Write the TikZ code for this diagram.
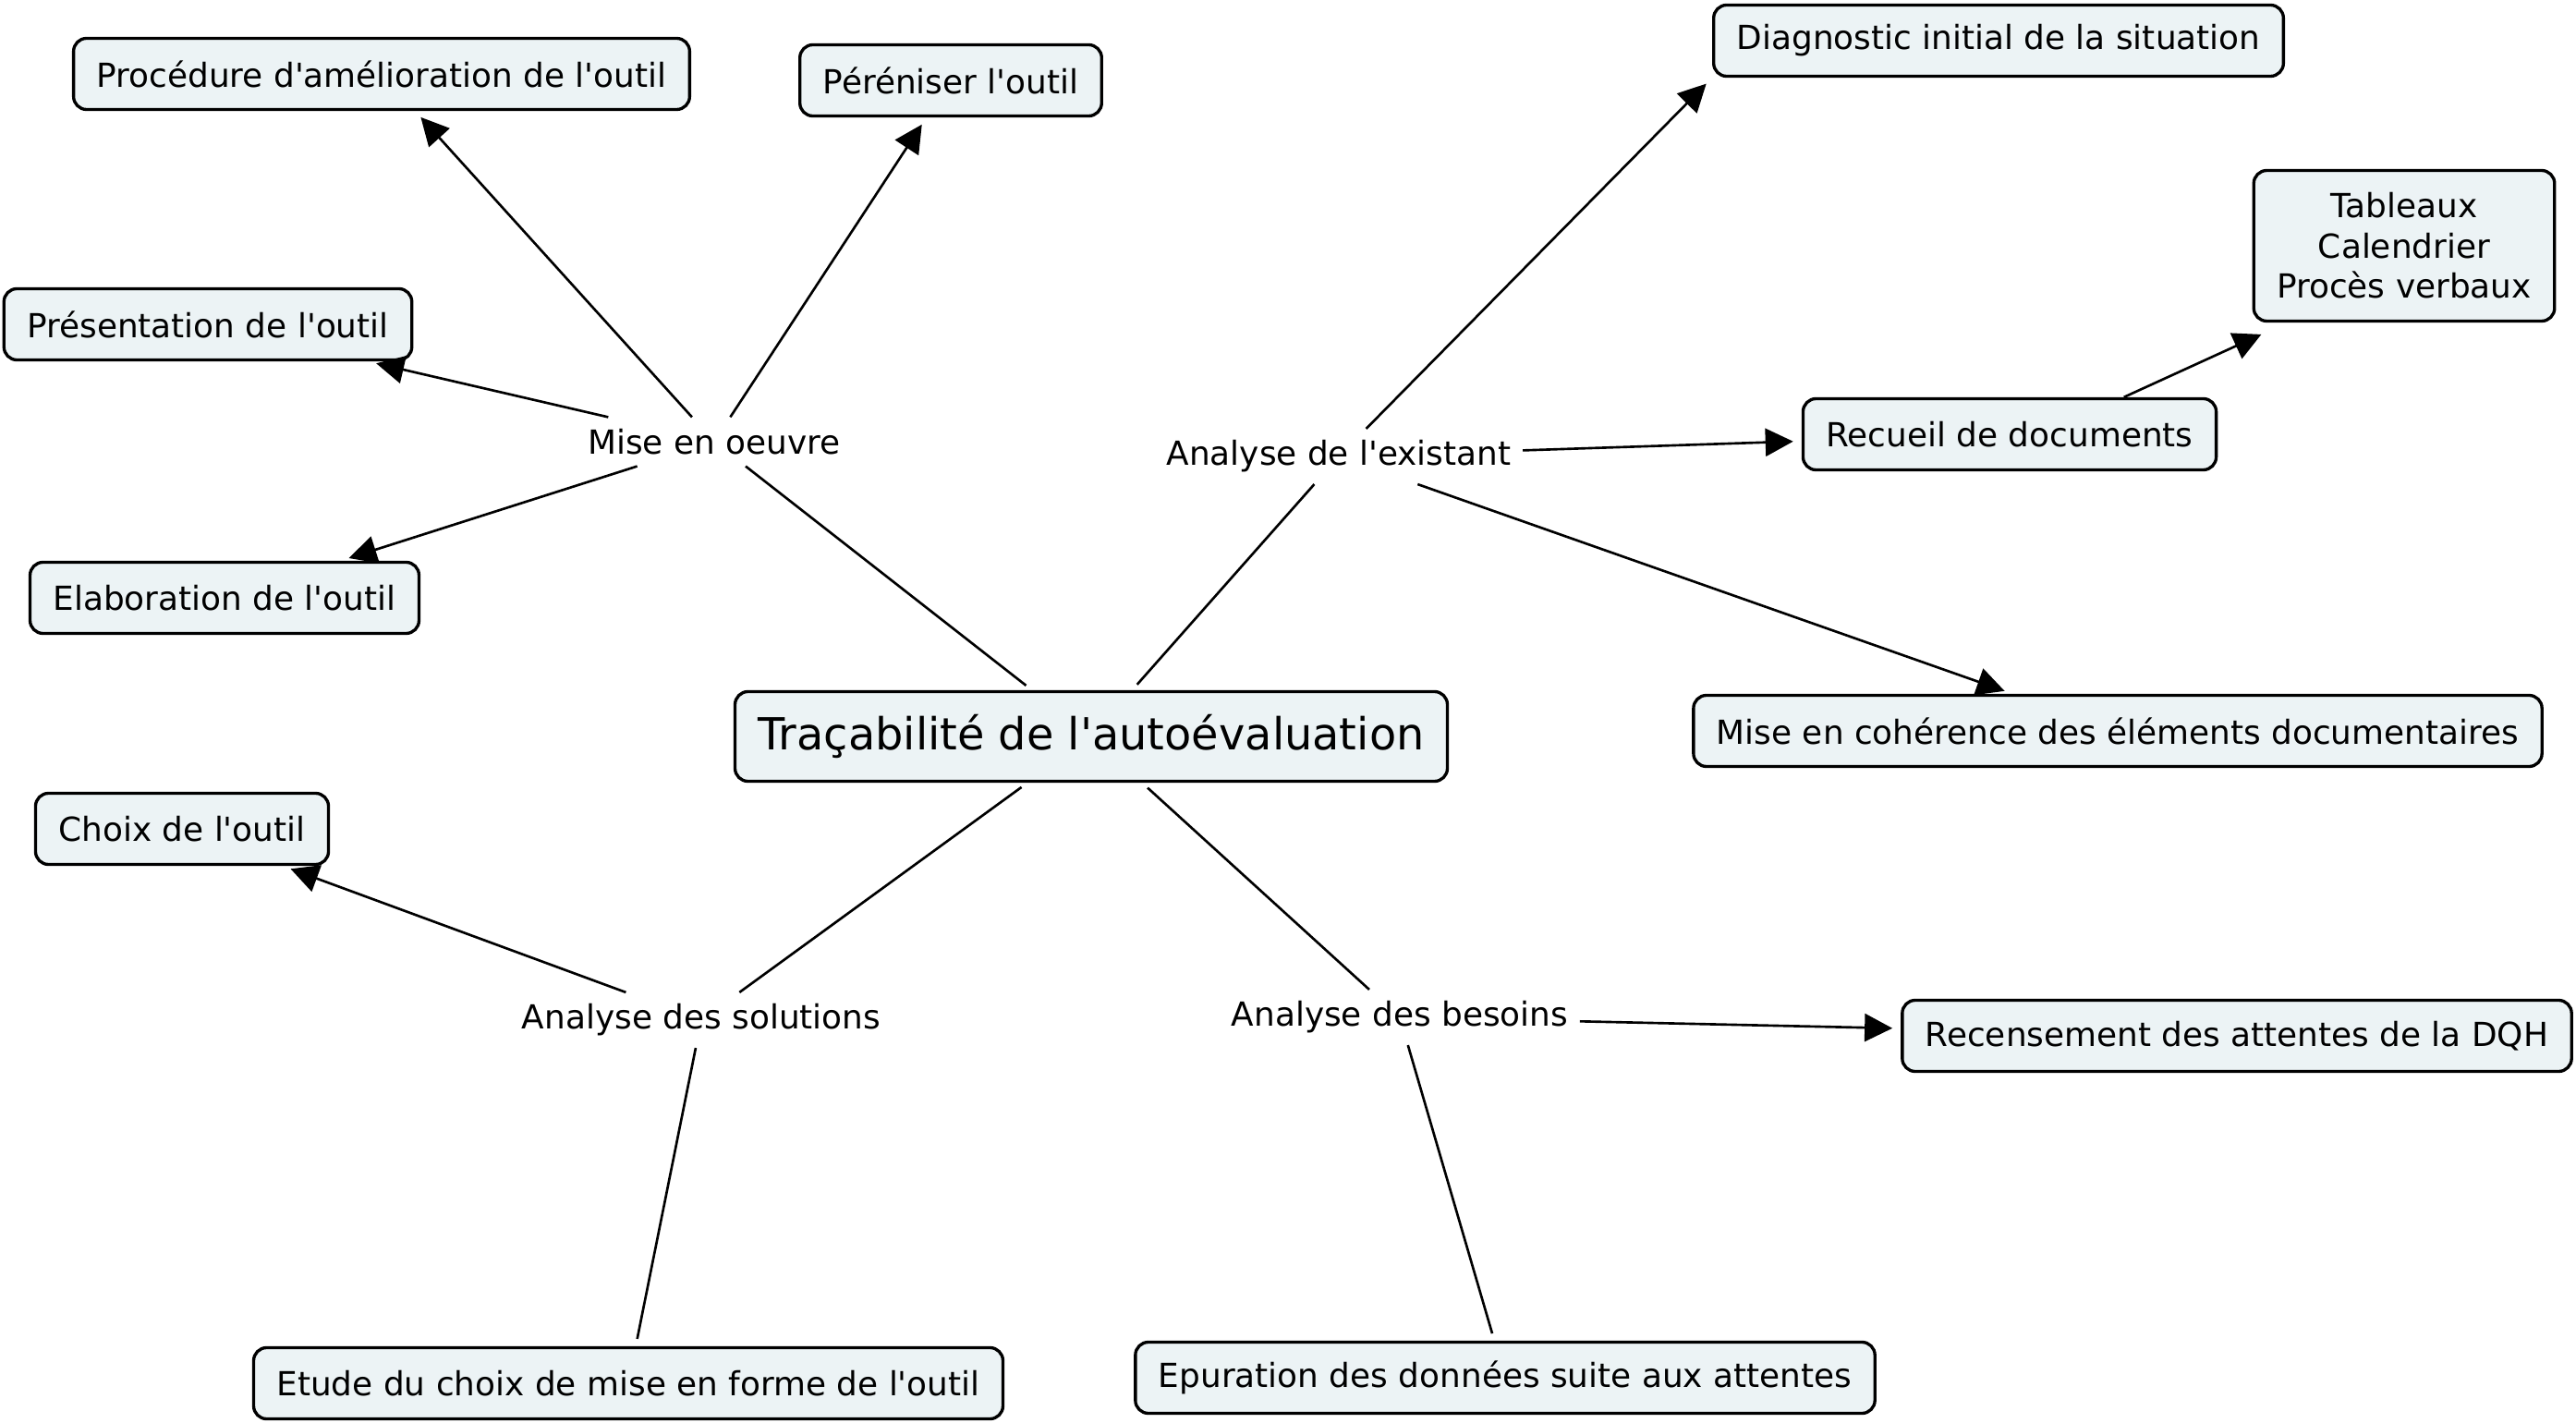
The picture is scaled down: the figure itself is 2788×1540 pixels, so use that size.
\documentclass[tikz,border=0pt]{standalone}
\usepackage{fontspec}
\setmainfont{DejaVu Sans}[Ligatures=TeXOff]
\usetikzlibrary{arrows.meta,positioning}
\definecolor{boxfill}{RGB}{236,243,245}

\begin{document}
\begin{tikzpicture}[
    x=0.01cm, y=-0.01cm,
    box/.style={rectangle, draw=black, fill=boxfill, line width=0.95pt, rounded corners=4pt, minimum height=0.77cm, inner xsep=0.25cm, align=center, font=\fontsize{10.2}{12.4}\selectfont},
    titlebox/.style={box, minimum height=0.97cm, font=\fontsize{13.6}{16}\selectfont},
    label/.style={inner sep=0.12cm, font=\fontsize{10.2}{12.4}\selectfont},
    arrow/.style={-{Triangle[length=0.3cm,width=0.3cm]}, line width=0.75pt, shorten >=0.09cm},
    link/.style={line width=0.75pt, shorten <=0.08cm}
]
\useasboundingbox (0,0) rectangle (2788,1540);

% Centre
\node[titlebox] (title) at (1181,797) {Traçabilité de l'autoévaluation};

% Top left: Mise en oeuvre
\node[label] (miseoeuvre) at (773,478) {Mise en oeuvre};
\node[box] (procedure) at (413,80) {Procédure d'amélioration de l'outil};
\node[box] (pereniser) at (1029,87) {Péréniser l'outil};
\node[box] (presentation) at (225,351) {Présentation de l'outil};
\node[box] (elaboration) at (243,647) {Elaboration de l'outil};

% Top right: Analyse de l'existant
\node[label] (existant) at (1449,494) {Analyse de l'existant};
\node[box] (diagnostic) at (2163,44) {Diagnostic initial de la situation};
\node[box, inner ysep=0.24cm] (docs) at (2602,266) {Tableaux\\Calendrier\\Procès verbaux};
\node[box] (recueil) at (2175,470) {Recueil de documents};
\node[box] (coherence) at (2292,791) {Mise en cohérence des éléments documentaires};

% Bottom left: Analyse des solutions
\node[label] (solutions) at (759,1104) {Analyse des solutions};
\node[box] (choix) at (197,897) {Choix de l'outil};
\node[box] (etude) at (680,1497) {Etude du choix de mise en forme de l'outil};

% Bottom right: Analyse des besoins
\node[label] (besoins) at (1515,1101) {Analyse des besoins};
\node[box] (recensement) at (2421,1121) {Recensement des attentes de la DQH};
\node[box] (epuration) at (1629,1491) {Epuration des données suite aux attentes};

% Connect centre to branches
\draw[link] (title) -- (miseoeuvre);
\draw[link] (title) -- (existant);
\draw[link] (title) -- (solutions);
\draw[link] (title) -- (besoins);

% Branch arrows
\draw[arrow] (miseoeuvre) -- (procedure);
\draw[arrow] (miseoeuvre) -- (pereniser);
\draw[arrow] (miseoeuvre) -- (presentation);
\draw[arrow] (miseoeuvre) -- (elaboration);

\draw[arrow] (existant) -- (diagnostic.south west);
\draw[arrow] (existant) -- (recueil);
\draw[arrow] (existant) -- (coherence);
\draw[arrow] (recueil.18) -- ([xshift=0.18cm,yshift=-0.09cm]docs.south west);

\draw[arrow] (solutions) -- (choix);
\draw[link, shorten <=0pt, shorten >=0.08cm] (solutions) -- (etude);

\draw[arrow] (besoins) -- (recensement);
\draw[link, shorten <=0pt, shorten >=0.08cm] (besoins) -- (epuration);

\end{tikzpicture}
\end{document}
